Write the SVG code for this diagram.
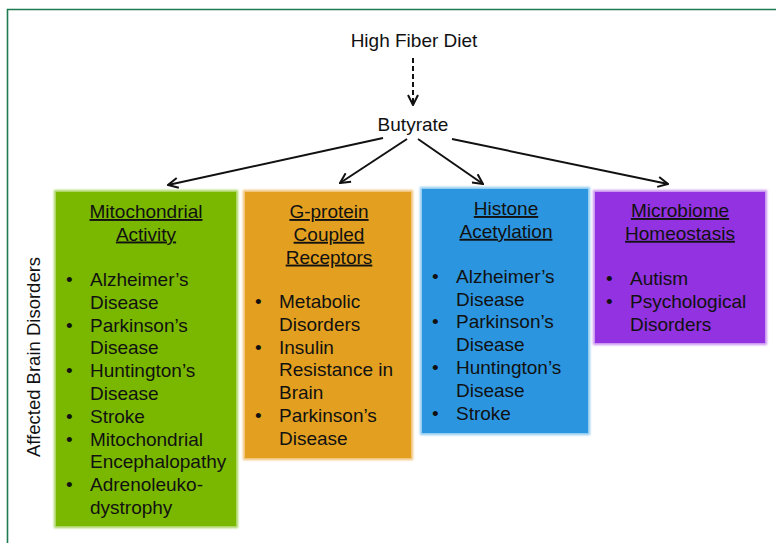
<svg xmlns="http://www.w3.org/2000/svg" width="776" height="543" viewBox="0 0 776 543">
<defs>
<marker id="ah" viewBox="0 0 12 12" refX="11" refY="6" markerWidth="12" markerHeight="12" markerUnits="userSpaceOnUse" orient="auto">
<path d="M1,1 L11,6 L1,11" fill="none" stroke="#111" stroke-width="2"/>
</marker>
<filter id="glow" x="-5%" y="-5%" width="110%" height="110%"><feGaussianBlur stdDeviation="1.2"/></filter>
</defs>
<style>
text{font-family:"Liberation Sans",Arial,sans-serif;font-size:19px;fill:#111}
.t{text-anchor:middle;text-decoration:underline}
.c{stroke:#111;stroke-width:2;fill:none}
</style>
<rect width="776" height="543" fill="#fff"/>
<path d="M7.5,543 V9.5 H776" fill="none" stroke="#1e7a50" stroke-width="1.6"/>
<text x="40" y="357" transform="rotate(-90 40 357)" text-anchor="middle" style="font-size:18.5px">Affected Brain Disorders</text>

<g id="high-fiber"><text x="414" y="47" text-anchor="middle">High Fiber Diet</text></g>
<g id="butyrate"><text x="413" y="131" text-anchor="middle">Butyrate</text></g>

<g id="connectors">
<line x1="413" y1="58" x2="413" y2="105" class="c" stroke-dasharray="5,3" marker-end="url(#ah)"/>
<line x1="383" y1="138" x2="168" y2="185" class="c" marker-end="url(#ah)"/>
<line x1="407" y1="139" x2="340" y2="183" class="c" marker-end="url(#ah)"/>
<line x1="418" y1="139" x2="483" y2="184" class="c" marker-end="url(#ah)"/>
<line x1="452" y1="139" x2="668" y2="184" class="c" marker-end="url(#ah)"/>
</g>

<g id="mito">
<rect x="54" y="190" width="184" height="338" fill="#a5d35a" filter="url(#glow)"/>
<rect x="56" y="192" width="180" height="334" fill="#7ab800"/>
<text class="t" x="146" y="218">Mitochondrial</text>
<text class="t" x="146" y="240.5">Activity</text>
<g>
<text x="66" y="286">•</text><text x="90" y="286">Alzheimer’s</text>
<text x="90" y="308.8">Disease</text>
<text x="66" y="331.6">•</text><text x="90" y="331.6">Parkinson’s</text>
<text x="90" y="354.4">Disease</text>
<text x="66" y="377.2">•</text><text x="90" y="377.2">Huntington’s</text>
<text x="90" y="400">Disease</text>
<text x="66" y="422.8">•</text><text x="90" y="422.8">Stroke</text>
<text x="66" y="445.6">•</text><text x="90" y="445.6">Mitochondrial</text>
<text x="90" y="468.4">Encephalopathy</text>
<text x="66" y="491.2">•</text><text x="90" y="491.2">Adrenoleuko-</text>
<text x="90" y="514">dystrophy</text>
</g>
</g>

<g id="gpcr">
<rect x="243" y="190" width="170" height="270" fill="#f0c070" filter="url(#glow)"/>
<rect x="245" y="192" width="166" height="266" fill="#e3a020"/>
<text class="t" x="329" y="218">G-protein</text>
<text class="t" x="329" y="240.8">Coupled</text>
<text class="t" x="329" y="263.6">Receptors</text>
<text x="255" y="308">•</text><text x="279" y="308">Metabolic</text>
<text x="279" y="330.8">Disorders</text>
<text x="255" y="353.6">•</text><text x="279" y="353.6">Insulin</text>
<text x="279" y="376.4">Resistance in</text>
<text x="279" y="399.2">Brain</text>
<text x="255" y="422">•</text><text x="279" y="422">Parkinson’s</text>
<text x="279" y="444.8">Disease</text>
</g>

<g id="histone">
<rect x="420" y="187" width="170" height="248" fill="#8cc8f0" filter="url(#glow)"/>
<rect x="422" y="189" width="166" height="244" fill="#2b95e0"/>
<text class="t" x="506" y="215">Histone</text>
<text class="t" x="506" y="237.8">Acetylation</text>
<text x="432" y="282.7">•</text><text x="456" y="282.7">Alzheimer’s</text>
<text x="456" y="305.5">Disease</text>
<text x="432" y="328.3">•</text><text x="456" y="328.3">Parkinson’s</text>
<text x="456" y="351.1">Disease</text>
<text x="432" y="373.9">•</text><text x="456" y="373.9">Huntington’s</text>
<text x="456" y="396.7">Disease</text>
<text x="432" y="419.5">•</text><text x="456" y="419.5">Stroke</text>
</g>

<g id="microbiome">
<rect x="593" y="190" width="174" height="155" fill="#c890f0" filter="url(#glow)"/>
<rect x="595" y="192" width="170" height="151" fill="#9232e0"/>
<text class="t" x="680" y="217">Microbiome</text>
<text class="t" x="680" y="239.8">Homeostasis</text>
<text x="606" y="285">•</text><text x="630" y="285">Autism</text>
<text x="606" y="307.8">•</text><text x="630" y="307.8">Psychological</text>
<text x="630" y="330.6">Disorders</text>
</g>
</svg>
